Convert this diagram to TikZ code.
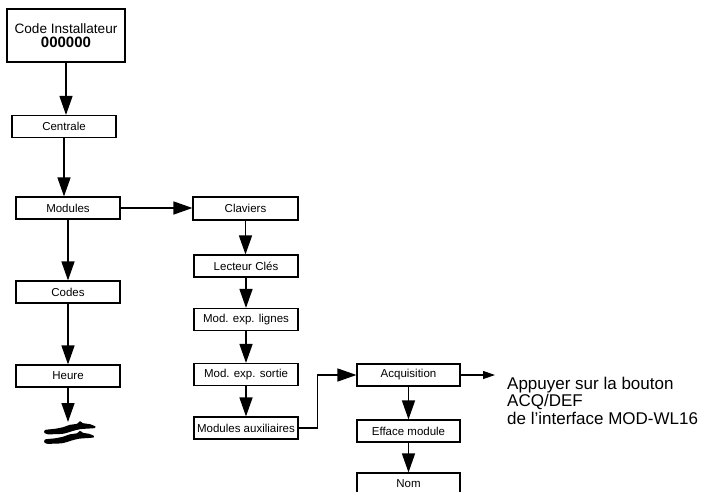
\documentclass[tikz,border=0pt]{standalone}
\usepackage{fontspec}
\setmainfont{Liberation Sans}
\usetikzlibrary{arrows.meta}
\begin{document}
\begin{tikzpicture}[x=1pt,y=-1pt,
  menubox/.style={draw, line width=1.1pt, inner sep=0pt, minimum width=104pt,
    minimum height=22pt, font=\fontsize{11.5}{13}\selectfont},
  flow/.style={line width=1.4pt, -{Triangle[length=19pt,width=13pt]}},
  notearrow/.style={line width=1.2pt, -{Triangle[length=12pt,width=8pt]}},
  brush/.style={fill=black}
]
\useasboundingbox (0,0) rectangle (709,492);
\clip (0,0) rectangle (709,492);

% main menu column
\node[menubox, minimum width=118pt, minimum height=53pt, align=center,
      font=\fontsize{13.6}{14}\selectfont] (code) at (66,35.5)
      {Code Installateur\\{\fontsize{15}{14}\selectfont\bfseries 000000}};
\node[menubox] (centrale) at (64,126.5) {Centrale};
\node[menubox] (modules)  at (68,208)   {Modules};
\node[menubox] (codes)    at (68,292)   {Codes};
\node[menubox] (heure)    at (68,376)   {Heure};
\coordinate (cut) at (68,422);

% modules sub-menu
\node[menubox, minimum width=105pt, minimum height=23pt] (claviers) at (245.5,208.5) {Claviers};
\node[menubox] (lecteur) at (246,266)   {Lecteur Clés};
\node[menubox] (lignes)  at (246,319.5) {Mod. exp. lignes};
\node[menubox] (sortie)  at (246,374.5) {Mod. exp. sortie};
\node[menubox] (aux)     at (246,428)   {Modules auxiliaires};

% auxiliary modules sub-menu
\node[menubox, minimum width=103pt] (acq)    at (408.5,375) {Acquisition};
\node[menubox, minimum width=103pt] (efface) at (408.5,431) {Efface module};
\node[menubox, minimum width=103pt] (nom)    at (408.5,484) {Nom};

% instruction text (anchored on the baseline of its last line)
\node[anchor=base west, inner sep=0pt, align=left,
      font=\fontsize{17}{17.5}\selectfont] (note) at (507,424)
      {Appuyer sur la bouton\\ACQ/DEF\\de l’interface MOD-WL16};

% connectors
\draw[flow] (code.south) -- (code.south |- centrale.north);
\draw[flow] (centrale.south) -- (centrale.south |- modules.north);
\draw[flow] (modules.south) -- (codes.north);
\draw[flow] (codes.south) -- (heure.north);
\draw[flow] (heure.south) -- (cut);
\draw[flow] (modules.east) -- (modules.east -| claviers.west);
\draw[flow] (claviers.south) -- (claviers.south |- lecteur.north);
\draw[flow] (lecteur.south) -- (lignes.north);
\draw[flow] (lignes.south) -- (sortie.north);
\draw[flow] (sortie.south) -- (aux.north);
\draw[flow] (aux.east) -- ++(19,0) |- (acq.west);
\draw[flow] (acq.south) -- (efface.north);
\draw[flow] (efface.south) -- (nom.north);
\draw[notearrow] (acq.east) -- ([xshift=-12pt]note.west |- acq.east);

% break mark below the last item: two brush strokes
\fill[brush] plot[smooth cycle] coordinates {(45,430) (55,428.8) (63,427.2)
  (70,424.8) (77,423.8) (80,421.2) (83,423.2) (90,424.2) (95.5,426.5)
  (95,428) (88,428.6) (80,429.2) (72,431.2) (64,433.6) (55,434.2)
  (47,434.2) (44.5,433)};
\fill[brush] plot[smooth cycle] coordinates {(45,439.5) (55,438.3) (63,436.7)
  (70,434.3) (77,433.3) (80,430.8) (83,432.8) (89,433.8) (94,436)
  (93.5,437.5) (87,438.1) (79,438.7) (71,440.7) (63,443.1) (54,443.7)
  (46.5,443.7) (44.5,442.5)};
\end{tikzpicture}
\end{document}
